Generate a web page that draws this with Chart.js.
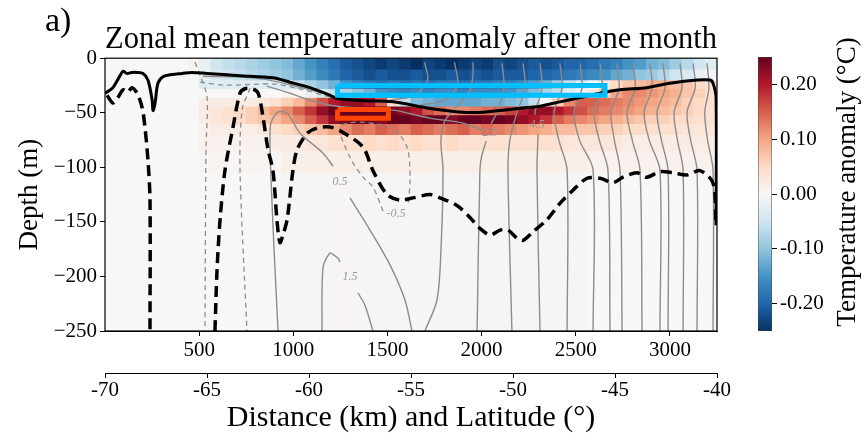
<!DOCTYPE html>
<html>
<head>
<meta charset="utf-8">
<script src="https://cdn.jsdelivr.net/npm/chart.js@4"></script>
<style>
  html, body { margin: 0; padding: 0; background: #fff; }
  #wrap { position: relative; width: 866px; height: 446px; }
  #main { position: absolute; left: 0; top: 0; }
  #cbar { position: absolute; left: 720px; top: 0; }
</style>
</head>
<body>
<div id="wrap">
  <canvas id="main" width="866" height="446"></canvas>
  <canvas id="cbar" width="146" height="446"></canvas>
</div>
<script>
/* ── axis ticks ── */
const depthTicks = [0, -50, -100, -150, -200, -250];
const distTicks = [500, 1000, 1500, 2000, 2500, 3000];
const latTicks = [-70, -65, -60, -55, -50, -45, -40];
const cbTicks = [-0.2, -0.1, 0, 0.1, 0.2];
const cbMin = -0.25, cbMax = 0.25;

/* ── heatmap grid: column centres (km) and depth band edges (m) ── */
const colKm = [31.25, 93.75, 156.25, 218.75, 281.25, 343.75, 406.25, 468.75, 531.25, 593.75,
  656.25, 718.75, 781.25, 843.75, 906.25, 968.75, 1031.25, 1093.75, 1156.25, 1218.75,
  1281.25, 1343.75, 1406.25, 1468.75, 1531.25, 1593.75, 1656.25, 1718.75, 1781.25, 1843.75,
  1906.25, 1968.75, 2031.25, 2093.75, 2156.25, 2218.75, 2281.25, 2343.75, 2406.25, 2468.75,
  2531.25, 2593.75, 2656.25, 2718.75, 2781.25, 2843.75, 2906.25, 2968.75, 3031.25, 3093.75,
  3156.25, 3218.75];
const bandEdges = [0, -10, -20, -28, -36, -44, -52, -60, -70, -85, -105, -250];

/* temperature anomaly (°C), one array per depth band */
const anom_0_10 = [0, 0, 0, 0, 0, 0, 0, 0.01, -0.02, -0.05,
  -0.06, -0.07, -0.08, -0.09, -0.10, -0.11, -0.13, -0.15, -0.17, -0.19,
  -0.21, -0.22, -0.23, -0.24, -0.23, -0.24, -0.25, -0.23, -0.24, -0.25,
  -0.24, -0.23, -0.24, -0.22, -0.23, -0.22, -0.21, -0.22, -0.21, -0.20,
  -0.20, -0.19, -0.18, -0.17, -0.15, -0.14, -0.12, -0.11, -0.09, -0.07,
  -0.05, -0.03];
const anom_10_20 = [0, 0, 0, 0, 0, 0, 0, 0, -0.02, -0.04,
  -0.05, -0.06, -0.07, -0.08, -0.09, -0.10, -0.12, -0.14, -0.16, -0.18,
  -0.20, -0.21, -0.22, -0.21, -0.22, -0.22, -0.21, -0.22, -0.22, -0.21,
  -0.22, -0.21, -0.22, -0.21, -0.21, -0.21, -0.20, -0.20, -0.19, -0.18,
  -0.17, -0.16, -0.15, -0.13, -0.12, -0.10, -0.09, -0.07, -0.05, -0.04,
  -0.02, -0.01];
const anom_20_28 = [0, 0, 0, 0, 0, 0, 0, 0, -0.03, -0.03,
  -0.03, -0.03, -0.03, -0.03, -0.03, -0.04, -0.06, -0.08, -0.10, -0.12,
  -0.15, -0.17, -0.18, -0.19, -0.18, -0.19, -0.18, -0.19, -0.18, -0.18,
  -0.19, -0.18, -0.18, -0.17, -0.17, -0.16, -0.14, -0.12, -0.09, -0.06,
  -0.03, 0.00, 0.03, 0.05, 0.07, 0.08, 0.09, 0.09, 0.08, 0.07,
  0.05, 0.04];
const anom_28_36 = [0, 0, 0, 0, 0, 0, 0, 0, 0, 0,
  0, 0, 0, 0, 0, 0.01, 0, -0.02, -0.04, -0.06,
  -0.08, -0.10, -0.12, -0.15, -0.16, -0.17, -0.16, -0.17, -0.16, -0.16,
  -0.17, -0.16, -0.16, -0.16, -0.15, -0.13, -0.11, -0.08, -0.06, -0.03,
  -0.01, 0.02, 0.06, 0.10, 0.12, 0.12, 0.11, 0.10, 0.09, 0.07,
  0.06, 0.04];
const anom_36_44 = [0, 0, 0, 0, 0, 0, 0, 0, 0.02, 0.02,
  0.02, 0.02, 0.02, 0.03, 0.04, 0.06, 0.08, 0.12, 0.16, 0.20,
  0.22, 0.22, 0.20, 0.15, 0.04, -0.06, -0.11, -0.12, -0.13, -0.13,
  -0.13, -0.13, -0.12, -0.12, -0.11, -0.10, -0.06, 0.00, 0.06, 0.12,
  0.15, 0.15, 0.14, 0.13, 0.12, 0.11, 0.10, 0.09, 0.08, 0.06,
  0.05, 0.04];
const anom_44_52 = [0, 0, 0, 0, 0, 0, 0, 0, 0.02, 0.03,
  0.04, 0.05, 0.06, 0.08, 0.10, 0.12, 0.15, 0.18, 0.22, 0.25,
  0.25, 0.25, 0.25, 0.25, 0.24, 0.22, 0.20, 0.16, 0.14, 0.12,
  0.12, 0.13, 0.14, 0.15, 0.17, 0.20, 0.22, 0.22, 0.20, 0.18,
  0.16, 0.14, 0.13, 0.12, 0.11, 0.10, 0.09, 0.08, 0.07, 0.06,
  0.05, 0.04];
const anom_52_60 = [0, 0, 0, 0, 0, 0, 0, 0, 0.02, 0.03,
  0.04, 0.05, 0.06, 0.07, 0.08, 0.10, 0.12, 0.15, 0.18, 0.22,
  0.24, 0.25, 0.25, 0.23, 0.25, 0.25, 0.24, 0.25, 0.25, 0.23,
  0.25, 0.25, 0.24, 0.25, 0.24, 0.22, 0.20, 0.18, 0.15, 0.13,
  0.12, 0.11, 0.10, 0.09, 0.08, 0.07, 0.06, 0.06, 0.05, 0.05,
  0.04, 0.04];
const anom_60_70 = [0, 0, 0, 0, 0, 0, 0, 0, 0.01, 0.02,
  0.02, 0.02, 0.02, 0.03, 0.04, 0.05, 0.06, 0.07, 0.08, 0.10,
  0.12, 0.14, 0.13, 0.15, 0.14, 0.13, 0.15, 0.14, 0.13, 0.14,
  0.15, 0.13, 0.14, 0.13, 0.12, 0.11, 0.10, 0.09, 0.08, 0.08,
  0.07, 0.07, 0.06, 0.06, 0.05, 0.05, 0.04, 0.04, 0.04, 0.03,
  0.03, 0.03];
const anom_70_85 = [0, 0, 0, 0, 0, 0, 0, 0, 0.01, 0.01,
  0.01, 0.01, 0.01, 0.01, 0.02, 0.02, 0.02, 0.03, 0.03, 0.04,
  0.04, 0.04, 0.05, 0.04, 0.05, 0.04, 0.05, 0.04, 0.04, 0.05,
  0.04, 0.04, 0.04, 0.04, 0.04, 0.04, 0.04, 0.04, 0.04, 0.03,
  0.03, 0.03, 0.03, 0.03, 0.02, 0.02, 0.02, 0.02, 0.02, 0.02,
  0.02, 0.02];
const anom_85_105 = [0, 0, 0, 0, 0, 0, 0, 0, 0.005, 0.005,
  0.005, 0.005, 0.005, 0.005, 0.005, 0.015, 0.015, 0.015, 0.015, 0.015,
  0.015, 0.015, 0.015, 0.015, 0.015, 0.015, 0.015, 0.015, 0.015, 0.015,
  0.015, 0.015, 0.015, 0.015, 0.015, 0.015, 0.015, 0.015, 0.015, 0.015,
  0.015, 0.01, 0.01, 0.01, 0.01, 0.01, 0.01, 0.01, 0.01, 0.01,
  0.01, 0.01];
const anom_105_250 = [0, 0, 0, 0, 0, 0, 0, 0, 0, 0,
  0, 0, 0, 0, 0, 0.004, 0.004, 0.004, 0.004, 0.004,
  0.004, 0.004, 0.004, 0.004, 0.004, 0.004, 0.004, 0.004, 0.004, 0.004,
  0.004, 0.004, 0.004, 0.004, 0.004, 0.004, 0.004, 0.004, 0.004, 0.004,
  0.004, 0, 0, 0, 0, 0, 0, 0, 0, 0,
  0, 0];
const anomBands = [anom_0_10, anom_10_20, anom_20_28, anom_28_36, anom_36_44, anom_44_52,
                   anom_52_60, anom_60_70, anom_70_85, anom_85_105, anom_105_250];

/* ── thick black lines: [km, depth] ── */
const mixedLayer = [[0,-32],[11,-31],[42,-27],[80,-16],[96,-12],[117,-14],[143,-13],[170,-13],[202,-14],[228,-20],
  [250,-38],[255,-48],[266,-41],[281,-23],[308,-17],[356,-15],[409,-14],[462,-13],[542,-14],[717,-16],[892,-18],
  [982,-22],[1089,-27],[1195,-34],[1232,-37],[1380,-39],[1529,-40],[1726,-46],[1901,-49.5],[2007,-49.5],[2114,-47.6],
  [2257,-45],[2310,-44],[2416,-40],[2523,-36],[2629,-32],[2735,-29],[2878,-27],[3000,-23],[3144,-20],[3213,-20],
  [3229,-23],[3245,-36],[3245,-153]];
const dashedLeft = [[11,-34],[42,-41],[69,-36],[96,-29],[122,-31],[143,-27],[170,-32],[197,-45],[212,-63],[228,-93],
  [239,-130],[239,-250]];
const dashedMain = [[584,-250],[595,-194],[611,-148],[637,-103],[680,-63],[717,-32],[743,-28],[781,-28],[813,-32],
  [839,-54],[866,-84],[892,-103],[913,-148],[929,-169],[945,-162],[967,-148],[998,-103],[1020,-84],[1073,-69],
  [1126,-64],[1195,-63],[1264,-68],[1370,-81.5],[1423,-103],[1498,-125],[1567,-130],[1636,-128],[1726,-125],
  [1779,-128],[1869,-135],[1938,-146],[1991,-156],[2045,-162],[2098,-157.5],[2140,-157.5],[2188,-165],[2220,-167],
  [2273,-159],[2347,-148],[2416,-133],[2485,-121],[2560,-110],[2629,-110],[2698,-114],[2751,-109],[2825,-105],
  [2878,-109],[2947,-104],[3016,-105],[3091,-107],[3160,-103],[3229,-114.5],[3245,-153]];

/* ── grey contours: solid ── */
const c05a = [[919,-250],[898,-176],[882,-112],[876,-75],[882,-59],[919,-49.5],[967,-50.4],[1036,-68.7],[1158,-87],[1211,-99]];
const c05b = [[1301,-128],[1407,-157.5],[1514,-189.6],[1593,-221.6],[1630,-250]];
const c15a = [[1152,-250],[1158,-191.4],[1195,-178.6],[1216,-180.5],[1237,-183.2],[1248,-186.8]];
const c15b = [[1344,-215.2],[1380,-226.2],[1423,-250]];
const cV = [[1699,-250],[1763,-221.6],[1784,-176],[1795,-102.6],[1784,-75],[1806,-57],[1875,-43],[1938,-29.3],[1954,-15.6],[1954,-3.7]];
const band1 = [[520,-16.5],[807,-18.3],[1036,-26.6],[1232,-35.7]];
const band2 = [[860,-25.6],[982,-32],[1089,-38.5],[1232,-44],[1529,-47.6],[1726,-54.9],[1901,-59.5],[2007,-65.9]];
const r1a = [[2108,-4.6],[2119,-27.5],[2082,-49.5],[2050,-60]];
const r1b = [[2024,-76],[2000,-90],[1991,-102.6],[1976,-250]];
const r2 = [[2220,-4.6],[2231,-27.5],[2188,-49.5],[2150,-75.1],[2140,-102.6],[2161,-250]];
const r3a = [[2310,-4.6],[2321,-27.5],[2283,-49.5],[2285,-52]];
const r3b = [[2300,-70],[2294,-102.6],[2310,-250]];
const r4 = [[2416,-4.6],[2427,-27.5],[2385,-49.5],[2410,-75.1],[2454,-102.6],[2454,-250]];
const r5 = [[2523,-4.6],[2533,-27.5],[2491,-49.5],[2520,-75.1],[2592,-102.6],[2592,-250]];
const r6 = [[2629,-4.6],[2640,-27.5],[2597,-49.5],[2625,-75.1],[2671,-102.6],[2682,-250]];
const r7 = [[2719,-4.6],[2730,-27.5],[2687,-49.5],[2705,-75.1],[2735,-102.6],[2746,-250]];
const r8 = [[2804,-4.6],[2815,-27.5],[2772,-49.5],[2800,-75.1],[2841,-102.6],[2852,-250]];
const r9 = [[2894,-4.6],[2905,-27.5],[2863,-49.5],[2890,-75.1],[2947,-102.6],[2947,-250]];
const r10 = [[2963,-4.6],[2974,-27.5],[2932,-49.5],[2955,-75.1],[2990,-102.6],[2990,-250]];
const r11 = [[3054,-4.6],[3064,-27.5],[3022,-49.5],[3040,-75.1],[3070,-102.6],[3070,-250]];
const r12 = [[3123,-4.6],[3134,-27.5],[3091,-49.5],[3110,-75.1],[3144,-102.6],[3144,-250]];
const r13 = [[3197,-4.6],[3207,-27.5],[3185,-49.5],[3200,-75.1],[3229,-102.6],[3229,-250]];
const top1 = [[1697,-3.7],[1713,-20],[1644,-34],[1514,-38.5]];
const top2 = [[1856,-3.7],[1872,-24.7],[1806,-38.5],[1673,-43]];

/* ── grey contours: dashed ── */
const gd1 = [[478,-3.7],[505,-15.6],[542,-35.7],[536,-84.2],[531,-250]];
const gd2 = [[770,-27.5],[728,-47.6],[717,-102.6],[754,-250]];
const gd3 = [[505,-22],[637,-24.7],[903,-23.8],[1062,-29.3],[1195,-35.7]];
const cm05 = [[1476,-140],[1423,-118.1],[1370,-109],[1301,-90.7],[1248,-63.2],[1354,-58.6],[1529,-65],[1604,-81.5],[1620,-111.7],[1609,-134.6]];

/* contour labels: [km, depth, text] */
const contourLabels = [[1248,-113,'0.5'],[1545,-143,'-0.5'],[1301,-200.5,'1.5'],[2045,-68,'2.5'],[2294,-61,'4.5']];

/* ── boxes: [km0, km1, depthTop, depthBottom] ── */
const cyanBox = [1235, 2655, -25, -34];
const redBox = [1235, 1505, -47, -55];

const SERIF = "'Liberation Serif', 'DejaVu Serif', serif";
Chart.defaults.font.family = SERIF;
Chart.defaults.color = '#000';

/* RdBu_r */
const RDBU = ['#053061','#2166ac','#4393c3','#92c5de','#d1e5f0','#f7f7f7','#fddbc7','#f4a582','#d6604d','#b2182b','#67001f'];
function hex(c) { return [1, 3, 5].map(i => parseInt(c.slice(i, i + 2), 16)); }
function rdbu(v) {
  let t = (v - cbMin) / (cbMax - cbMin);
  t = Math.min(1, Math.max(0, t)) * (RDBU.length - 1);
  const i = Math.min(Math.floor(t), RDBU.length - 2), f = t - i;
  const a = hex(RDBU[i]), b = hex(RDBU[i + 1]);
  return `rgb(${a.map((c, k) => Math.round(c + (b[k] - c) * f)).join(',')})`;
}

const pts = arr => arr.map(([x, y]) => ({x, y}));
const boxPts = ([x0, x1, y0, y1]) => [{x: x0, y: y0}, {x: x1, y: y0}, {x: x1, y: y1}, {x: x0, y: y1}, {x: x0, y: y0}];

const heatSets = anomBands.map((vals, b) => ({
  type: 'bar',
  data: colKm.map(x => ({x, y: [bandEdges[b], bandEdges[b + 1]]})),
  backgroundColor: vals.map(rdbu),
  borderWidth: 0,
  barPercentage: 1,
  categoryPercentage: 1,
  grouped: false,
  order: 10,
}));

function line(arr, color, width, dash, order) {
  return {type: 'line', data: pts(arr), borderColor: color, borderWidth: width, borderDash: dash || [],
          pointRadius: 0, fill: false, tension: 0.3, order};
}
const GREY = '#8c8c8c';
const solidGrey = [c05a, c05b, c15a, c15b, cV, band1, band2, r1a, r1b, r2, r3a, r3b, r4, r5, r6, r7, r8, r9, r10, r11, r12, r13, top1, top2]
  .map(a => line(a, GREY, 1.4, null, 4));
const dashedGrey = [gd1, gd2, gd3, cm05].map(a => line(a, GREY, 1.3, [5, 4], 4));

const boxSet = (b, color) => ({type: 'line', data: boxPts(b), borderColor: color, borderWidth: 5, pointRadius: 0,
  fill: false, tension: 0, borderJoinStyle: 'miter', order: 1});

const framePlugin = {
  id: 'frame',
  afterDatasetsDraw(chart) {
    const {ctx, chartArea: a, scales} = chart;
    ctx.save();
    ctx.font = `italic 12px ${SERIF}`;
    ctx.fillStyle = '#9a9a9a';
    ctx.textAlign = 'center';
    ctx.textBaseline = 'middle';
    contourLabels.forEach(([x, y, t]) => ctx.fillText(t, scales.x.getPixelForValue(x), scales.y.getPixelForValue(y)));
    ctx.strokeStyle = '#000';
    ctx.lineWidth = 1.2;
    ctx.strokeRect(a.left, a.top, a.right - a.left, a.bottom - a.top);
    ctx.font = `34px ${SERIF}`;
    ctx.fillStyle = '#000';
    ctx.textAlign = 'left';
    ctx.textBaseline = 'alphabetic';
    ctx.fillText('a)', 45, 31);
    ctx.restore();
  },
};

const axisCommon = {
  grid: {drawOnChartArea: false, tickLength: 5, tickColor: '#000', tickWidth: 1},
  border: {display: true, color: '#000', width: 1},
};

new Chart(document.getElementById('main'), {
  type: 'line',
  data: {
    datasets: [
      boxSet(cyanBox, '#00bfff'),
      boxSet(redBox, '#ff4500'),
      line(mixedLayer, '#000', 3, null, 2),
      line(dashedLeft, '#000', 3.5, [11, 6], 2),
      line(dashedMain, '#000', 3.5, [11, 6], 2),
      ...solidGrey,
      ...dashedGrey,
      ...heatSets,
    ],
  },
  plugins: [framePlugin],
  options: {
    responsive: false,
    animation: false,
    events: [],
    layout: {padding: {left: 0, right: 149, top: 0, bottom: 0}},
    plugins: {
      legend: {display: false},
      tooltip: {enabled: false},
      title: {display: true, fullSize: false, text: 'Zonal mean temperature anomaly after one month',
              font: {family: SERIF, size: 31, weight: 'normal'}, color: '#000', padding: {top: 21, bottom: 0}},
    },
    scales: {
      x: {
        ...axisCommon, type: 'linear', position: 'bottom', min: 0, max: 3250, offset: false, weight: 0,
        grid: {...axisCommon.grid, offset: false},
        ticks: {font: {size: 21}, padding: 2, maxRotation: 0, autoSkip: false, callback: v => String(v)},
        afterBuildTicks: s => { s.ticks = distTicks.map(v => ({value: v})); },
        afterFit: s => { s.height = 42; },
      },
      lat: {
        ...axisCommon, type: 'linear', axis: 'x', position: 'bottom', min: -70, max: -40, weight: 1,
        ticks: {font: {size: 21}, padding: 0, maxRotation: 0, autoSkip: false, callback: v => String(v)},
        afterBuildTicks: s => { s.ticks = latTicks.map(v => ({value: v})); },
        afterFit: s => { s.height = 73; },
        title: {display: true, text: 'Distance (km) and Latitude (°)', font: {size: 30}, color: '#000',
                padding: {top: 0, bottom: 10}},
      },
      y: {
        ...axisCommon, type: 'linear', position: 'left', min: -250, max: 0,
        ticks: {font: {size: 21}, padding: 3, callback: v => (v === 0 ? '0' : '\u2212' + Math.abs(v))},
        afterBuildTicks: s => { s.ticks = depthTicks.map(v => ({value: v})); },
        afterFit: s => { s.width = 105; },
        title: {display: true, text: 'Depth (m)', font: {size: 27}, color: '#000', padding: {top: 14, bottom: 0}},
      },
    },
  },
});

/* ── colorbar ── */
function cbGradient(chart) {
  const s = chart.scales.y;
  if (!chart.chartArea || !s) return RDBU[5];
  const y0 = s.getPixelForValue(cbMin), y1 = s.getPixelForValue(cbMax);
  if (!isFinite(y0) || !isFinite(y1)) return RDBU[5];
  const g = chart.ctx.createLinearGradient(0, y0, 0, y1);
  RDBU.forEach((c, i) => g.addColorStop(i / (RDBU.length - 1), c));
  return g;
}
const cbTitle = {
  id: 'cbTitle',
  afterDraw(chart) {
    const {ctx} = chart;
    ctx.save();
    ctx.translate(128, 182);
    ctx.rotate(-Math.PI / 2);
    ctx.font = `27px ${SERIF}`;
    ctx.fillStyle = '#000';
    ctx.textAlign = 'center';
    ctx.textBaseline = 'middle';
    ctx.fillText('Temperature anomaly (°C)', 0, 0);
    ctx.restore();
  },
};
new Chart(document.getElementById('cbar'), {
  type: 'bar',
  data: {
    labels: [''],
    datasets: [{data: [[cbMin, cbMax]], backgroundColor: ctx => cbGradient(ctx.chart), borderColor: '#444',
                borderWidth: 0.8, borderSkipped: false, barPercentage: 1, categoryPercentage: 1}],
  },
  plugins: [cbTitle],
  options: {
    responsive: false,
    animation: false,
    events: [],
    layout: {padding: {left: 38, right: 0, top: 57, bottom: 115}},
    plugins: {legend: {display: false}, tooltip: {enabled: false}},
    scales: {
      x: {display: false},
      y: {
        position: 'right', min: cbMin, max: cbMax,
        grid: {drawOnChartArea: false, tickLength: 5, tickColor: '#000'},
        border: {display: false},
        ticks: {font: {size: 21}, padding: 3, callback: v => v.toFixed(2)},
        afterBuildTicks: s => { s.ticks = cbTicks.map(v => ({value: v})); },
        afterFit: s => { s.width = 94; },
      },
    },
  },
});
</script>
</body>
</html>
